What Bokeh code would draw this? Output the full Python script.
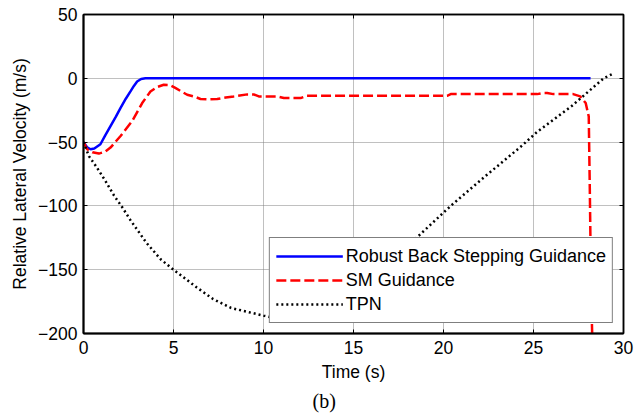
from bokeh.plotting import figure
from bokeh.models import (Range1d, LinearAxis, Legend, LegendItem, Title,
                          FixedTicker, CustomJSTickFormatter)
from bokeh.embed import file_html
from bokeh.resources import INLINE

# ---- data ----
t_rbs = [0, 0.2, 0.39, 0.6, 0.94, 1.2, 1.5, 1.8, 2.06, 2.35, 2.61, 2.8, 2.98, 3.2, 3.44,
         5, 10, 15, 20, 25, 28.17]
v_rbs = [-50, -54, -55.6, -55, -51.7, -45, -37.5, -30, -23.2, -16, -10.3, -6, -2.5, -0.5, 0,
         0, 0, 0, 0, 0, 0]

t_sm = [0, 0.2, 0.5, 0.85, 1.2, 1.5, 2.06, 2.7, 3.26, 3.72, 4.1, 4.46, 4.8, 5.1, 5.4, 5.76,
        6.13, 6.5, 7.0, 7.43, 7.9, 8.35, 9.1, 9.46, 9.74, 10.76, 11.13, 12.06, 12.4, 15,
        20.2, 20.4, 25.2, 25.5, 25.76, 26.1, 27.2, 27.6, 27.9, 28.07, 28.13, 28.2, 28.26, 28.3]
v_sm = [-50, -55.6, -58, -59, -57.5, -54.3, -45.2, -33.6, -19.4, -10.3, -6.8, -5.1, -5.3, -7.5,
        -10, -12.9, -14.2, -16.2, -16.5, -16.2, -15, -14.2, -12.6, -12.6, -14.2, -14.2, -15.5,
        -15.5, -13.7, -13.7, -13.7, -12.4, -12.4, -11.6, -11.6, -12.4, -12.4, -14.2, -19.4,
        -30, -89, -167, -200, -215]

t_tpn = [0, 0.3, 0.7, 1.2, 1.7, 2.15, 2.6, 3.5, 4.3, 5.0, 6.3, 7.2, 8.2, 9.1, 10.0, 11.0,
         12.0, 13.0, 14.0, 16.0, 18.5, 20.4, 22.3, 24.3, 25.2, 27.1, 28.9, 29.4]
v_tpn = [-50, -61, -69, -80, -92, -101, -111, -129, -142, -150, -164, -173, -180, -183, -186,
         -189, -190, -187, -179, -155, -125, -100, -77, -53.5, -42, -22, 0, 3.5]

x_ticks = [0, 5, 10, 15, 20, 25, 30]
y_ticks = [-200, -150, -100, -50, 0, 50]
series_names = ["Robust Back Stepping Guidance", "SM Guidance", "TPN"]

FONT = "Liberation Sans"
FS = "17.5px"

p = figure(width=637, height=415, output_backend="svg", toolbar_location=None, title=None,
           x_range=Range1d(0, 30), y_range=Range1d(-200, 50),
           min_border_left=83, min_border_right=14, min_border_top=14, min_border_bottom=79)
p.background_fill_color = "white"
p.border_fill_color = "white"
p.outline_line_color = "black"
p.outline_line_width = 1.5

# grid
for g in (p.xgrid, p.ygrid):
    g.grid_line_color = "#808080"
    g.grid_line_dash = "1 1"
    g.grid_line_width = 1
p.xgrid.ticker = FixedTicker(ticks=x_ticks)
p.ygrid.ticker = FixedTicker(ticks=y_ticks)

# main axes
xa = p.xaxis[0]
ya = p.yaxis[0]
xa.ticker = FixedTicker(ticks=x_ticks)
ya.ticker = FixedTicker(ticks=y_ticks)
xa.axis_label = "Time (s)"
ya.axis_label = "Relative Lateral Velocity (m/s)"
for ax in (xa, ya):
    ax.axis_line_color = "black"
    ax.axis_line_width = 2
    ax.major_tick_in = 4
    ax.major_tick_out = 0
    ax.minor_tick_line_color = None
    ax.major_tick_line_color = "black"
    ax.major_label_text_font = FONT
    ax.major_label_text_font_size = FS
    ax.major_label_text_color = "black"
    ax.axis_label_text_font = FONT
    ax.axis_label_text_font_size = FS
    ax.axis_label_text_font_style = "normal"
    ax.axis_label_text_color = "black"
xa.major_label_standoff = 7
xa.axis_label_standoff = 5
ya.major_label_standoff = 6
ya.axis_label_standoff = 5

# box axes (top / right) with inward ticks, no labels
empty = CustomJSTickFormatter(code="return ''")
top = LinearAxis(ticker=FixedTicker(ticks=x_ticks), formatter=empty)
right = LinearAxis(ticker=FixedTicker(ticks=y_ticks), formatter=empty)
for ax in (top, right):
    ax.axis_line_color = "black"
    ax.axis_line_width = 1.5
    ax.major_tick_in = 4
    ax.major_tick_out = 0
    ax.minor_tick_line_color = None
    ax.major_label_standoff = 0
    ax.major_label_text_font_size = "1px"
p.add_layout(top, "above")
p.add_layout(right, "right")

# lines
r1 = p.line(t_rbs, v_rbs, line_color="#0000ff", line_width=2.5)
r2 = p.line(t_sm, v_sm, line_color="#ff0000", line_width=2.5, line_dash="10 4")
r3 = p.line(t_tpn, v_tpn, line_color="black", line_width=2.5, line_dash="2 3")

legend = Legend(items=[LegendItem(label=series_names[0], renderers=[r1]),
                       LegendItem(label=series_names[1], renderers=[r2]),
                       LegendItem(label=series_names[2], renderers=[r3])],
                location="bottom_right")
legend.border_line_color = "black"
legend.border_line_width = 1
legend.background_fill_color = "white"
legend.background_fill_alpha = 1
legend.label_text_font = FONT
legend.label_text_font_size = "18px"
legend.label_text_color = "black"
legend.glyph_width = 67
legend.glyph_height = 24
legend.label_height = 24
legend.label_standoff = 3
legend.padding = 6
legend.spacing = 0
legend.margin = 10
p.add_layout(legend)

cap = Title(text="(b)", align="left", offset=229, text_font="Liberation Serif",
            text_font_size="20px", text_font_style="normal", text_color="black", standoff=7)
p.add_layout(cap, "below")

open("out.html", "w").write(file_html(p, INLINE))
